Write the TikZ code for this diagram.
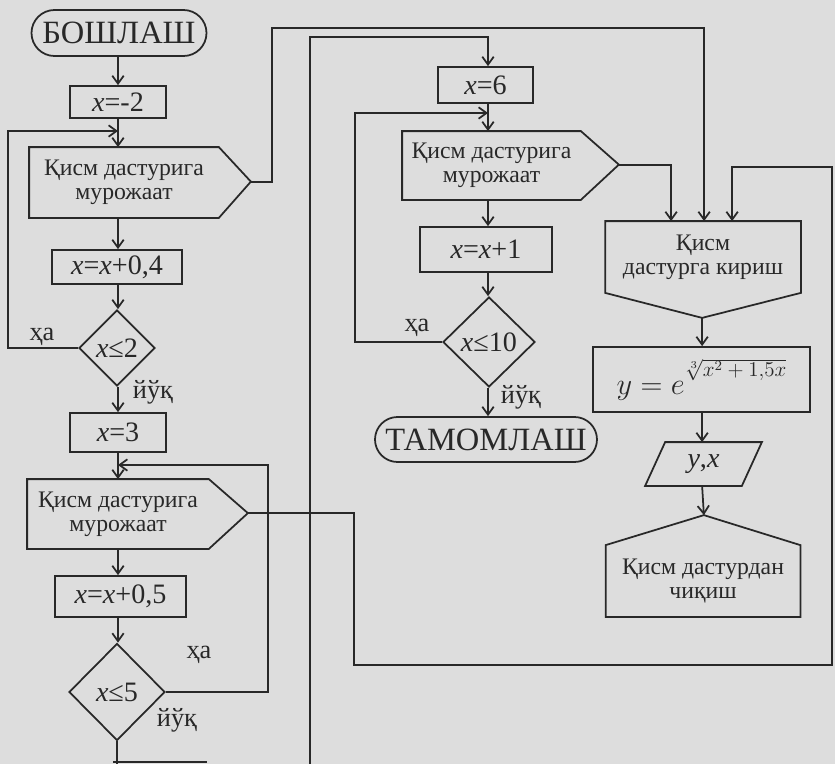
\documentclass[tikz,border=0pt]{standalone}
\usepackage{fontspec}
\setmainfont{Liberation Serif}
\usetikzlibrary{arrows.meta,calc,shapes.geometric,shapes.misc}
\definecolor{paper}{RGB}{221,221,221}
\definecolor{ink}{RGB}{40,40,40}
\def\px{0.02cm}
\tikzset{
  pbox/.style 2 args={draw,minimum width=#1*\px,minimum height=#2*\px,inner sep=0pt,font=\fontsize{16}{18}\selectfont},
  tbox/.style 2 args={minimum width=#1*\px,minimum height=#2*\px,inner sep=0pt,align=center,font=\fontsize{13.5}{13.5}\selectfont},
  term/.style 2 args={draw,rounded rectangle,minimum width=#1*\px,minimum height=#2*\px,inner sep=0pt,font=\fontsize{18.5}{20}\selectfont},
  cond/.style 2 args={draw,diamond,minimum width=#1*\px,minimum height=#2*\px,inner sep=0pt,font=\fontsize{16}{18}\selectfont},
  lbl/.style={font=\fontsize{15}{16}\selectfont}
}
\begin{document}
\begin{tikzpicture}[x=0.02cm,y=-0.02cm,>={Straight Barb[length=4.5pt,width=6.5pt]},line width=1pt,draw=ink,text=ink]
\fill[paper] (0,0) rectangle (835,764);
\useasboundingbox (0,0) rectangle (835,764);
\clip (0,0) rectangle (835,764);
% left column
\node[term={175}{46}] (st) at (119,33) {БОШЛАШ};
\node[pbox={96}{32}] (b1) at (118,102) {\textit{x}=-2};
\node[tbox={188}{69}] (h1) at (124,182.5) {Қисм дастурига\\мурожаат};
\node[pbox={130}{34}] (b2) at (117,267) {\textit{x}=\textit{x}+0,4};
\node[cond={76}{76}] (d1) at (117,348) {\textit{x}≤2};
\node[pbox={96}{39}] (b3) at (118,432.5) {\textit{x}=3};
\node[tbox={180}{68}] (h2) at (118,514) {Қисм дастурига\\мурожаат};
\node[pbox={131}{41}] (b4) at (120.5,596.5) {\textit{x}=\textit{x}+0,5};
\node[cond={96}{97}] (d2) at (117,692) {\textit{x}≤5};
% middle column
\node[pbox={95}{36}] (b5) at (485.5,85) {\textit{x}=6};
\node[tbox={177}{67}] (h3) at (491.5,165.5) {Қисм дастурига\\мурожаат};
\node[pbox={132}{45}] (b6) at (486,249.5) {\textit{x}=\textit{x}+1};
\node[cond={92}{90}] (d3) at (489,342) {\textit{x}≤10};
\node[term={222}{45}] (en) at (486,439.5) {ТАМОМЛАШ};
% subprogram
\node[tbox={194}{70}] (k) at (703,257) {Қисм\\дастурга кириш};
\node[pbox={217}{65},font=\fontsize{17}{19}\selectfont] (f) at (701.5,379.5) {$y=e$\raisebox{1.3ex}{\fontsize{12}{12}\selectfont$\sqrt[3]{x^2+1{,}5x}$}};
\node[tbox={95}{42},font=\fontsize{16}{18}\selectfont] (p) at (703.5,464) {\textit{y},\textit{x}};
\node[tbox={193}{70}] (ex) at (703,581) {Қисм дастурдан\\чиқиш};
\foreach \n/\w/\hh in {h1/32/34.5,h2/39/34,h3/38/33.5}
  \draw (\n.south east) -- (\n.south west) -- (\n.north west) -- (\n.north east) -- ++(\w,\hh) coordinate (\n-t) -- cycle;
\draw (k.south east) -- (k.north east) -- (k.north west) -- (k.south west) -- ++(97,25) coordinate (kv) -- cycle;
\draw (ex.north west) -- (ex.south west) -- (ex.south east) -- (ex.north east) -- ++(-96.5,-30) coordinate (xv) -- cycle;
\draw ($(p.north west)+(10,0)$) -- ($(p.north east)+(10,0)$) -- ($(p.south east)+(-10,0)$) -- ($(p.south west)+(-10,0)$) -- cycle;
\path (k.north west) ++(66,0) coordinate (k1) ++(33,0) coordinate (k2) ++(28,0) coordinate (k3);
\coordinate (cl) at (118,0);\coordinate (cm) at (488,0);
\coordinate (j1) at (118,131);\coordinate (j2) at (118,465);\coordinate (j3) at (488,113);
\coordinate (bt) at (310,770);
% flow
\foreach \a/\b in {st/b1,b1/h1,h1/b2,b2/d1,d1/b3,b3/h2,h2/b4,b4/d2}\draw[->] (\a.south-|cl) -- (\b.north-|cl);
\foreach \a/\b in {b5/h3,h3/b6,b6/d3,d3/en}\draw[->] (\a.south-|cm) -- (\b.north-|cm);
\draw[->] (kv) -- (kv|-f.north);
\draw[->] (f.south-|kv) -- (p.north-|kv);
\draw[->] (p.south-|kv) -- (xv);
\draw[->] (d1.west) -| (8,131) -- (j1);
\draw[->] (d2.east) -| (268,465) -- (j2);
\draw[->] (d3.west) -| (355,113) -- (j3);
\draw[->] (h1-t) -| (272,28) -| (k2);
\draw[->] (h2-t) -| (354,665) -| (832,167) -| (k3);
\draw[->] (h3-t) -| (k1);
\draw[->] (bt) |- (488,37) -- (b5.north-|cm);
\draw (d2.south) -- (117,770);
\draw (113,762) -- (207,762);
\foreach \x/\y/\t [count=\i] in {42/337/ҳа,153/392/йўқ,199/655/ҳа,177/720/йўқ,417/328/ҳа,521/397/йўқ}
  \node[lbl] (lb\i) at (\x,\y) {\t};
\end{tikzpicture}
\end{document}
